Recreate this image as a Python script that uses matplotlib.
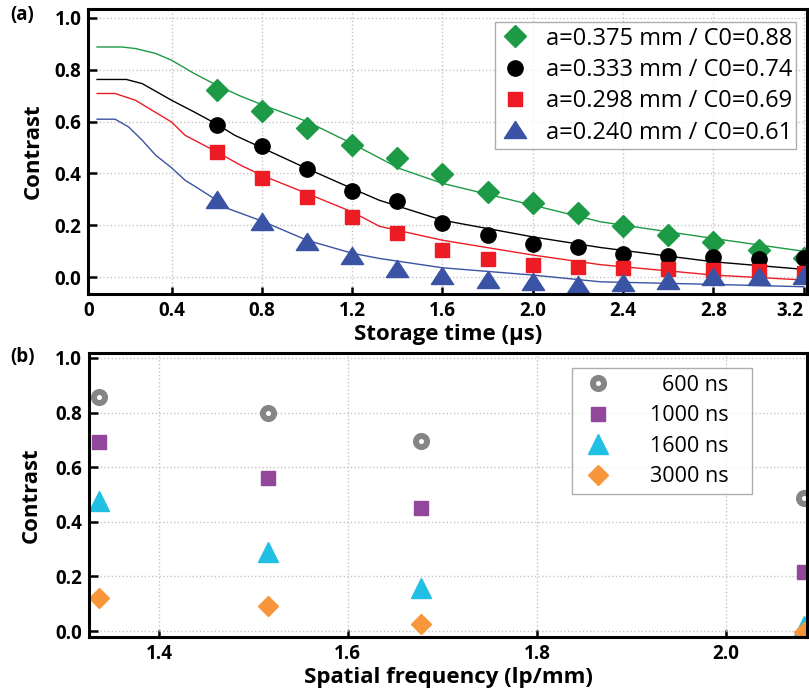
import matplotlib
matplotlib.use("Agg")
import matplotlib.pyplot as plt
from matplotlib.path import Path

plt.rcParams['font.family'] = ['Open Sans', 'DejaVu Sans']
plt.rcParams['axes.unicode_minus'] = False

# ---- panel (a) data ----
t_meas = [0.6, 0.8, 1.0, 1.2, 1.4, 1.6, 1.8, 2.0, 2.2, 2.4, 2.6, 2.8, 3.0, 3.2]
c_375 = [0.720, 0.641, 0.575, 0.511, 0.458, 0.397, 0.327, 0.286, 0.246, 0.199, 0.163, 0.135, 0.105, 0.073]
c_333 = [0.588, 0.506, 0.419, 0.333, 0.295, 0.210, 0.162, 0.127, 0.117, 0.091, 0.081, 0.078, 0.069, 0.073]
c_298 = [0.481, 0.383, 0.310, 0.231, 0.171, 0.105, 0.070, 0.047, 0.041, 0.035, 0.032, 0.028, 0.024, 0.015]
c_240 = [0.298, 0.214, 0.137, 0.082, 0.032, 0.005, -0.011, -0.017, -0.030, -0.023, -0.014, 0.000, 0.002, 0.007]

# fitted curves
fit_t_375 = [0.07, 0.18, 0.24, 0.33, 0.40, 0.50, 0.60, 0.70, 0.80, 1.00, 1.20, 1.41, 1.60, 2.00, 2.30, 2.80, 3.22]
fit_375 = [0.887, 0.887, 0.881, 0.862, 0.836, 0.785, 0.740, 0.700, 0.665, 0.600, 0.515, 0.419, 0.362, 0.278, 0.214, 0.150, 0.098]
fit_t_333 = [0.07, 0.20, 0.27, 0.40, 0.50, 0.60, 0.68, 0.80, 1.00, 1.20, 1.32, 1.60, 2.00, 2.30, 2.80, 3.20]
fit_333 = [0.762, 0.762, 0.746, 0.682, 0.637, 0.590, 0.547, 0.499, 0.419, 0.342, 0.297, 0.220, 0.156, 0.115, 0.060, 0.031]
fit_t_298 = [0.07, 0.15, 0.24, 0.40, 0.46, 0.60, 0.71, 0.80, 1.00, 1.20, 1.32, 1.60, 2.00, 2.30, 2.80, 3.20]
fit_298 = [0.708, 0.708, 0.682, 0.598, 0.547, 0.483, 0.430, 0.393, 0.323, 0.252, 0.197, 0.143, 0.086, 0.049, 0.009, -0.010]
fit_t_240 = [0.07, 0.15, 0.21, 0.27, 0.33, 0.40, 0.46, 0.53, 0.60, 0.65, 0.80, 1.00, 1.20, 1.32, 1.60, 2.00, 2.30, 2.80, 3.20]
fit_240 = [0.609, 0.609, 0.579, 0.528, 0.470, 0.422, 0.374, 0.336, 0.297, 0.265, 0.217, 0.143, 0.093, 0.073, 0.037, 0.009, -0.017, -0.027, -0.036]

labels_a = ["a=0.375 mm / C0=0.88", "a=0.333 mm / C0=0.74",
            "a=0.298 mm / C0=0.69", "a=0.240 mm / C0=0.61"]

# ---- panel (b) data ----
freq = [1.337, 1.515, 1.677, 2.083]
c_600 = [0.858, 0.798, 0.697, 0.486]
c_1000 = [0.693, 0.561, 0.452, 0.215]
c_1600 = [0.475, 0.290, 0.157, 0.018]
c_3000 = [0.122, 0.092, 0.026, -0.005]
labels_b = ["600 ns", "1000 ns", "1600 ns", "3000 ns"]

green = "#1c9a45"
red = "#ed1c24"
blue = "#3a53a4"
grey = "#858585"
purple = "#93479b"
cyan = "#22bfe4"
orange = "#f7963b"

tri = Path([(-1, -0.72), (1, -0.72), (0, 0.82), (-1, -0.72)],
           [Path.MOVETO, Path.LINETO, Path.LINETO, Path.CLOSEPOLY])

fig = plt.figure(figsize=(8.09, 6.91), dpi=100)
ax1 = fig.add_axes([0.1091, 0.5745, 0.8888, 0.4120])
ax2 = fig.add_axes([0.1100, 0.0781, 0.8875, 0.4110])


def style_axes(ax):
    for s in ax.spines.values():
        s.set_linewidth(2.2)
    ax.tick_params(direction='in', width=1.8, length=6.5, labelsize=13.5, pad=5)
    ax.tick_params(axis='x', length=5)
    ax.tick_params(top=False, right=False)
    ax.grid(True, ls=':', color='#c4c4c4', lw=1.0)
    ax.set_axisbelow(True)
    for lab in ax.get_xticklabels() + ax.get_yticklabels():
        lab.set_fontweight('bold')


# panel (a)
ax1.plot(fit_t_375, fit_375, color=green, lw=1)
ax1.plot(fit_t_333, fit_333, color='black', lw=1)
ax1.plot(fit_t_298, fit_298, color=red, lw=1)
ax1.plot(fit_t_240, fit_240, color=blue, lw=1)
ax1.plot(t_meas, c_375, ls='none', marker='D', ms=11.5, color=green, label=labels_a[0])
ax1.plot(t_meas, c_333, ls='none', marker='o', ms=11, color='black', label=labels_a[1])
ax1.plot(t_meas, c_298, ls='none', marker='s', ms=10.5, color=red, label=labels_a[2])
ax1.plot(t_meas, c_240, ls='none', marker=tri, ms=16, color=blue, label=labels_a[3])

x_min, x_max = 0.031, 3.216
ax1.set_xlim(x_min, x_max)
ax1.set_ylim(-0.064, 1.032)
ax1.set_xticks([x_min, 0.4, 0.8, 1.2, 1.6, 2.0, 2.4, 2.8, 3.2],
               ["0", "0.4", "0.8", "1.2", "1.6", "2.0", "2.4", "2.8", "3.2"])
ax1.set_yticks([0.0, 0.2, 0.4, 0.6, 0.8, 1.0])
ax1.set_yticklabels(["0.0", "0.2", "0.4", "0.6", "0.8", "1.0"])
style_axes(ax1)
ax1.get_xticklabels()[-1].set_ha('right')
ax1.set_xlabel("Storage time (\u03bcs)", fontsize=16, fontweight='bold', labelpad=2)
ax1.set_ylabel("Contrast", fontsize=16, fontweight='bold', labelpad=8)
leg_a = ax1.legend(loc='upper left', bbox_to_anchor=(0.5657, 0.5, 0.4186, 0.4554),
                   mode='expand', borderaxespad=0,
                   fontsize=17, frameon=True, fancybox=False, edgecolor='#999999',
                   handletextpad=0.68, labelspacing=0.31, borderpad=0.2, handlelength=1.27)
leg_a.get_frame().set_linewidth(1.0)

# panel (b)
ax2.plot(freq, c_600, ls='none', marker='o', ms=8, mfc='white', mec=grey, mew=4.3, label=labels_b[0])
ax2.plot(freq, c_1000, ls='none', marker='s', ms=10.5, color=purple, label=labels_b[1])
ax2.plot(freq, c_1600, ls='none', marker='^', ms=14, color=cyan, label=labels_b[2])
ax2.plot(freq, c_3000, ls='none', marker='D', ms=10.5, color=orange, label=labels_b[3])
ax2.set_xlim(1.326, 2.086)
ax2.set_ylim(-0.022, 1.018)
ax2.set_xticks([1.4, 1.6, 1.8, 2.0])
ax2.set_xticklabels(["1.4", "1.6", "1.8", "2.0"])
ax2.set_yticks([0.0, 0.2, 0.4, 0.6, 0.8, 1.0])
ax2.set_yticklabels(["0.0", "0.2", "0.4", "0.6", "0.8", "1.0"])
style_axes(ax2)
ax2.set_xlabel("Spatial frequency (lp/mm)", fontsize=16, fontweight='bold', labelpad=2)
ax2.set_ylabel("Contrast", fontsize=16, fontweight='bold', labelpad=10)
leg_b = ax2.legend(loc='upper left', bbox_to_anchor=(0.6727, 0.5, 0.2507, 0.447),
                   mode='expand', borderaxespad=0,
                   fontsize=15.5, frameon=True, fancybox=False, edgecolor='#999999',
                   handletextpad=1.5, labelspacing=0.44, borderpad=0.31, handlelength=1.8)
leg_b.get_frame().set_linewidth(1.0)

fig.text(0.013, 0.978, "(a)", fontsize=13.5, fontweight='bold', va='center')
fig.text(0.013, 0.483, "(b)", fontsize=13.5, fontweight='bold', va='center')

# right-align the legend labels of panel (b)
fig.canvas.draw()
texts = leg_b.get_texts()
widths = [t.get_window_extent().width for t in texts]
for t, w in zip(texts, widths):
    t.set_position((max(widths) - w, 0))

fig.savefig("out.png", dpi=100)
